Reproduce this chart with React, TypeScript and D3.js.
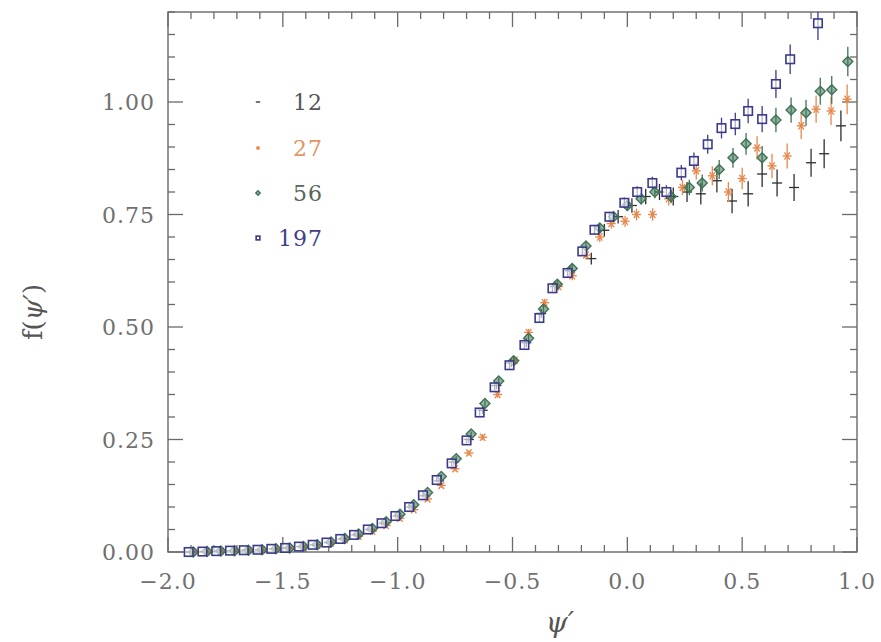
import React from "react";
import * as d3 from "d3";

// ---------------- data ----------------
const seriesNames = ["12", "27", "56", "197"];

const x12 = [-1.90,-1.84,-1.78,-1.72,-1.66,-1.60,-1.54,-1.48,-1.42,-1.36,-1.30,-1.24,-1.18,-1.12,-1.06,-1.00,-0.94,-0.88,-0.82,
  -0.755,-0.69,-0.63,-0.57,-0.505,-0.44,-0.375,-0.315,-0.25,-0.157,-0.10,-0.04,0.02,0.08,0.14,0.20,
  0.26,0.32,0.39,0.456,0.526,0.587,0.652,0.726,0.80,0.857,0.93];
const y12 = [0.000,0.001,0.002,0.003,0.004,0.005,0.007,0.009,0.012,0.016,0.021,0.029,0.038,0.050,0.064,0.080,0.100,0.125,0.158,
  0.200,0.250,0.315,0.370,0.420,0.465,0.530,0.590,0.625,0.652,0.715,0.745,0.770,0.790,0.800,0.790,
  0.800,0.796,0.825,0.780,0.796,0.840,0.820,0.810,0.865,0.885,0.947];
const e12 = [0.002,0.002,0.002,0.002,0.002,0.002,0.002,0.002,0.002,0.003,0.003,0.003,0.003,0.004,0.004,0.004,0.005,0.005,0.005,
  0.006,0.007,0.008,0.008,0.009,0.010,0.010,0.011,0.012,0.013,0.014,0.015,0.016,0.017,0.018,0.020,
  0.022,0.024,0.026,0.027,0.028,0.029,0.030,0.030,0.031,0.032,0.034];

const x27 = [-1.89,-1.83,-1.77,-1.71,-1.65,-1.59,-1.53,-1.47,-1.41,-1.35,-1.29,-1.23,-1.17,-1.11,-1.05,-0.99,-0.93,-0.87,-0.81,
  -0.75,-0.69,-0.63,-0.565,-0.49,-0.43,-0.36,-0.30,-0.24,-0.18,-0.12,-0.07,-0.01,0.04,0.11,0.18,
  0.24,0.30,0.37,0.44,0.50,0.565,0.63,0.696,0.757,0.822,0.887,0.957];
const y27 = [0.000,0.001,0.002,0.003,0.004,0.005,0.006,0.008,0.011,0.015,0.020,0.027,0.035,0.046,0.059,0.075,0.094,0.118,0.148,
  0.185,0.220,0.255,0.350,0.426,0.488,0.554,0.590,0.614,0.660,0.700,0.730,0.735,0.750,0.750,0.785,
  0.810,0.847,0.836,0.800,0.830,0.898,0.858,0.880,0.947,0.984,0.980,1.006];
const e27 = [0.002,0.002,0.002,0.002,0.002,0.002,0.002,0.002,0.002,0.003,0.003,0.003,0.003,0.004,0.004,0.004,0.005,0.005,0.005,
  0.006,0.006,0.007,0.007,0.008,0.008,0.009,0.009,0.010,0.010,0.011,0.011,0.012,0.013,0.014,0.015,
  0.017,0.019,0.021,0.022,0.024,0.026,0.027,0.028,0.029,0.030,0.031,0.033];

const x56 = [-1.89,-1.83,-1.77,-1.71,-1.65,-1.59,-1.53,-1.47,-1.41,-1.35,-1.29,-1.23,-1.17,-1.11,-1.05,-0.99,-0.93,-0.87,-0.81,
  -0.745,-0.68,-0.62,-0.56,-0.495,-0.43,-0.365,-0.305,-0.24,-0.18,-0.12,-0.06,0.0,0.06,0.12,0.19,
  0.27,0.326,0.40,0.46,0.517,0.587,0.647,0.713,0.778,0.84,0.89,0.96];
const y56 = [0.000,0.001,0.002,0.003,0.004,0.005,0.007,0.009,0.012,0.016,0.022,0.030,0.040,0.052,0.067,0.084,0.105,0.132,0.168,
  0.207,0.262,0.330,0.380,0.425,0.475,0.540,0.595,0.630,0.680,0.720,0.745,0.770,0.785,0.800,0.790,
  0.810,0.820,0.850,0.876,0.907,0.876,0.960,0.982,0.976,1.024,1.027,1.090];
const e56 = [0.002,0.002,0.002,0.002,0.002,0.002,0.002,0.002,0.002,0.003,0.003,0.003,0.003,0.004,0.004,0.004,0.005,0.005,0.005,
  0.006,0.006,0.007,0.007,0.008,0.008,0.009,0.009,0.010,0.010,0.011,0.011,0.012,0.013,0.014,0.015,
  0.017,0.019,0.021,0.022,0.024,0.026,0.027,0.028,0.029,0.030,0.031,0.033];

const x197 = [-1.91,-1.85,-1.79,-1.73,-1.67,-1.61,-1.55,-1.49,-1.43,-1.37,-1.31,-1.25,-1.19,-1.13,-1.07,-1.01,-0.95,-0.89,-0.83,
  -0.765,-0.70,-0.643,-0.578,-0.513,-0.448,-0.383,-0.326,-0.26,-0.196,-0.143,-0.078,-0.013,0.043,0.109,0.17,
  0.235,0.29,0.35,0.41,0.47,0.526,0.587,0.647,0.709,0.83];
const y197 = [0.000,0.001,0.002,0.003,0.004,0.005,0.007,0.009,0.012,0.016,0.021,0.029,0.038,0.050,0.064,0.080,0.100,0.126,0.160,
  0.197,0.248,0.310,0.366,0.415,0.460,0.520,0.586,0.620,0.668,0.716,0.745,0.776,0.800,0.820,0.800,
  0.843,0.869,0.906,0.942,0.951,0.980,0.962,1.040,1.095,1.175];
const e197 = [0.002,0.002,0.002,0.002,0.002,0.002,0.002,0.002,0.002,0.003,0.003,0.003,0.003,0.004,0.004,0.004,0.005,0.005,0.005,
  0.006,0.006,0.007,0.007,0.008,0.008,0.009,0.009,0.010,0.010,0.011,0.011,0.012,0.013,0.014,0.015,
  0.017,0.019,0.021,0.023,0.025,0.027,0.029,0.031,0.033,0.037];

const xTickValues = [-2.0, -1.5, -1.0, -0.5, 0.0, 0.5, 1.0];
const xTickLabels = ["\u22122.0", "\u22121.5", "\u22121.0", "\u22120.5", "0.0", "0.5", "1.0"];
const yTickValues = [0, 0.25, 0.5, 0.75, 1.0];
const yTickLabels = ["0.00", "0.25", "0.50", "0.75", "1.00"];

// ---------------- layout ----------------
const W = 881, H = 642;
const L = 168, R = 857, T = 12, B = 552;
const xScale = d3.scaleLinear().domain([-2, 1]).range([L, R]);
const yScale = d3.scaleLinear().domain([0, 1.2]).range([B, T]);

const colors: Record<string, string> = {
  "12": "#2e2e2e",
  "27": "#e8874c",
  "56": "#3f7456",
  "197": "#3b3b8a",
};
const labelColors: Record<string, string> = {
  "12": "#555555",
  "27": "#e39463",
  "56": "#55665b",
  "197": "#3f3f86",
};

const axisColor = "#6a6a6a";
const textColor = "#707070";
const tickFont = "'DejaVu Serif', 'Liberation Serif', serif";

function Marker({ name, cx, cy, s }: { name: string; cx: number; cy: number; s: number }) {
  const c = colors[name];
  if (name === "12") {
    return <line x1={cx - s} x2={cx + s} y1={cy} y2={cy} stroke={c} strokeWidth={1.3} />;
  }
  if (name === "27") {
    const a = s * 0.9;
    return (
      <g stroke={c} strokeWidth={1.4}>
        <line x1={cx - a} x2={cx + a} y1={cy} y2={cy} />
        <line x1={cx - a * 0.6} x2={cx + a * 0.6} y1={cy - a * 0.8} y2={cy + a * 0.8} />
        <line x1={cx - a * 0.6} x2={cx + a * 0.6} y1={cy + a * 0.8} y2={cy - a * 0.8} />
      </g>
    );
  }
  if (name === "56") {
    return (
      <path
        d={`M${cx},${cy - s}L${cx + s},${cy}L${cx},${cy + s}L${cx - s},${cy}Z`}
        fill={c}
        fillOpacity={0.55}
        stroke={c}
        strokeWidth={1.4}
      />
    );
  }
  return (
    <rect x={cx - s * 0.85} y={cy - s * 0.85} width={s * 1.7} height={s * 1.7} fill="white" fillOpacity={0.6} stroke={c} strokeWidth={1.6} />
  );
}

function Series({ name, xs, ys, es }: { name: string; xs: number[]; ys: number[]; es: number[] }) {
  const c = colors[name];
  return (
    <g>
      {xs.map((x, i) => {
        const cx = xScale(x);
        const cy = yScale(ys[i]);
        if (cy < T) return null;
        const y1 = Math.max(T, yScale(ys[i] + es[i]));
        const y2 = yScale(ys[i] - es[i]);
        return (
          <g key={i}>
            <line x1={cx} x2={cx} y1={y1} y2={y2} stroke={c} strokeWidth={1.3} />
            <Marker name={name} cx={cx} cy={cy} s={5} />
          </g>
        );
      })}
    </g>
  );
}

export default function App() {
  const xMinor = d3.range(-2, 1.0001, 0.1);
  const yMinor = d3.range(0, 1.2001, 0.05);
  const isMajorX = (v: number) => Math.abs(v * 2 - Math.round(v * 2)) < 1e-6;
  const isMajorY = (v: number) => Math.abs(v * 4 - Math.round(v * 4)) < 1e-6;
  const major = 15, minor = 7;

  const legendRows = [102, 148, 193, 238];

  return (
    <svg width={W} height={H} style={{ position: "absolute", left: 0, top: 0, background: "white" }}>
      <defs>
        <filter id="soft" x="-5%" y="-5%" width="110%" height="110%">
          <feGaussianBlur stdDeviation="0.45" />
        </filter>
      </defs>
      <rect x={0} y={0} width={W} height={H} fill="white" />
      <g filter="url(#soft)">
        {/* frame */}
        <rect x={L} y={T} width={R - L} height={B - T} fill="none" stroke={axisColor} strokeWidth={1.4} />
        {/* x ticks bottom/top */}
        {xMinor.map((v, i) => {
          const x = xScale(v);
          const len = isMajorX(v) ? major : minor;
          return (
            <g key={"xt" + i} stroke={axisColor} strokeWidth={1.3}>
              <line x1={x} x2={x} y1={B} y2={B - len} />
              <line x1={x} x2={x} y1={T} y2={T + len} />
            </g>
          );
        })}
        {yMinor.map((v, i) => {
          const y = yScale(v);
          const len = isMajorY(v) ? major : minor;
          return (
            <g key={"yt" + i} stroke={axisColor} strokeWidth={1.3}>
              <line x1={L} x2={L + len} y1={y} y2={y} />
              <line x1={R} x2={R - len} y1={y} y2={y} />
            </g>
          );
        })}
        {/* data */}
        <Series name="12" xs={x12} ys={y12} es={e12} />
        <Series name="27" xs={x27} ys={y27} es={e27} />
        <Series name="56" xs={x56} ys={y56} es={e56} />
        <Series name="197" xs={x197} ys={y197} es={e197} />
        {/* legend markers */}
        {seriesNames.map((n, i) => (
          <Marker key={"lm" + n} name={n} cx={258} cy={legendRows[i]} s={2.2} />
        ))}
      </g>
      {/* tick labels */}
      {xTickValues.map((v, i) => (
        <text key={"xl" + i} x={xScale(v)} y={589} textAnchor="middle" fontFamily={tickFont} fontSize={22} letterSpacing={1} fill={textColor}>
          {xTickLabels[i]}
        </text>
      ))}
      {yTickValues.map((v, i) => (
        <text key={"yl" + i} x={155} y={yScale(v) + 8} textAnchor="end" fontFamily={tickFont} fontSize={22} letterSpacing={1} fill={textColor}>
          {yTickLabels[i]}
        </text>
      ))}
      {/* legend labels */}
      {seriesNames.map((n, i) => (
        <text key={"ll" + n} x={323} y={legendRows[i] + 8} textAnchor="end" fontFamily={tickFont} fontSize={22} letterSpacing={1} fill={labelColors[n]}>
          {n}
        </text>
      ))}
      {/* axis titles */}
      <text x={560} y={632} textAnchor="middle" fontFamily={tickFont} fontSize={28} fontStyle="italic" fill="#555">
        {"\u03C8\u2032"}
      </text>
      <text transform="translate(42,312) rotate(-90)" textAnchor="middle" fontFamily={tickFont} fontSize={26} fill="#555">
        <tspan>f(</tspan>
        <tspan fontStyle="italic">{"\u03C8\u2032"}</tspan>
        <tspan>)</tspan>
      </text>
    </svg>
  );
}
